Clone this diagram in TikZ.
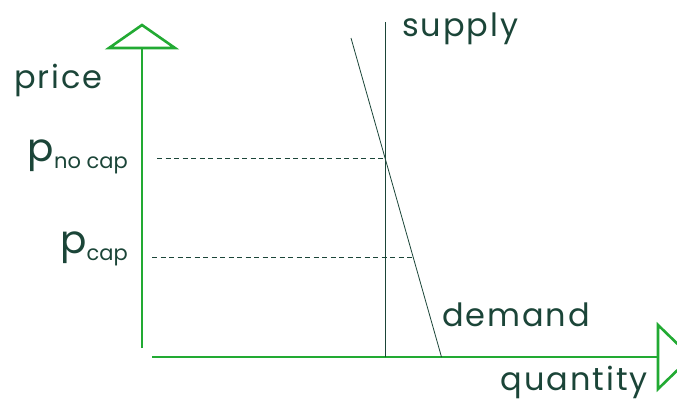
\documentclass[tikz,border=0pt]{standalone}
\usepackage{fontspec}
\setmainfont[LetterSpace=6]{Poppins}
\newfontfamily\subfont{Poppins}
\usetikzlibrary{positioning, calc}
\definecolor{axisgreen}{HTML}{22AA33}
\definecolor{inkgreen}{HTML}{1B4538}
\newcommand{\pricesym}[1]{{\fontsize{39}{40}\selectfont p}\raisebox{-7pt}{\subfont\fontsize{21}{21}\selectfont #1}}

\begin{document}
\begin{tikzpicture}[
    x=1pt, y=-1pt,
    every node/.style={color=inkgreen, inner sep=0pt, font=\fontsize{32}{36}\selectfont},
    axis/.style={draw=axisgreen, line width=2.6pt, line join=miter},
    curve/.style={draw=inkgreen, line width=1pt},
    guide/.style={draw=inkgreen, line width=0.8pt, dash pattern=on 5pt off 3.5pt}
  ]
  % --- page size ---
  \useasboundingbox (0,0) rectangle (677,405);
  \clip (0,0) rectangle (677,405);

  % --- axes ---
  \coordinate (ybot) at (142,348);
  \coordinate (ytop) at (142,48);
  \coordinate (xleft) at (152,357);
  \coordinate (xright) at (658,357);
  \draw[axis] (ybot) -- (ytop);
  \draw[axis] (ytop) -- ++(-33,0) -- (142,25) -- (175,48) -- cycle;
  \draw[axis] (xleft) -- (xright);
  \draw[axis] (xright) -- ++(0,-32) -- (691,357) -- (658,389) -- cycle;

  % --- supply and demand ---
  \coordinate (stop) at (385,22);
  \coordinate (sbot) at (385,357);
  \coordinate (dtop) at (351,38);
  \coordinate (dbot) at (441.5,357);
  \draw[curve] (stop) -- (sbot);
  \draw[curve, line width=0.8pt] (dtop) -- (dbot);

  % --- price levels ---
  \coordinate (nocap) at (157,158);
  \coordinate (nocapx) at (385,158);
  \coordinate (cap) at (152,257);
  \coordinate (capx) at (413,257);
  \draw[guide] (nocap) -- (nocapx);
  \draw[guide] (cap) -- (capx);

  % --- labels ---
  \node[anchor=base west] (supplylbl) at (402,36) {supply};
  \node[anchor=base west] (pricelbl) at (14,88) {price};
  \node[anchor=base east] (pnocap) at (128,161) {\pricesym{no cap}};
  \node[anchor=base east] (pcap) at (128,253) {\pricesym{cap}};
  \node[anchor=base west] (demandlbl) at (442,326) {demand};
  \node[anchor=base east] (quantitylbl) at (648,390) {quantity};
\end{tikzpicture}
\end{document}
